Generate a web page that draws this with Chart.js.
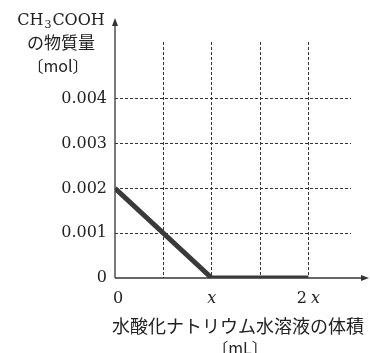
<!DOCTYPE html>
<html>
<head>
<meta charset="utf-8">
<script src="https://cdn.jsdelivr.net/npm/chart.js@4/dist/chart.umd.min.js"></script>
<style>
  html, body { margin: 0; padding: 0; background: #fff; }
  #wrap { width: 370px; height: 353px; position: relative; }
</style>
</head>
<body>
<div id="wrap"><canvas id="c" width="370" height="353"></canvas></div>
<script>
// ---- data (x values in units of "x" mL) ----
const volumes = [0, 1, 2];
const moles = [0.002, 0, 0];

const xTickValues = [0, 0.5, 1, 1.5, 2];
const xTickLabels = ['0', '', 'x', '', '2x'];
const yTickValues = [0, 0.001, 0.002, 0.003, 0.004];
const yTickLabels = ['0', '0.001', '0.002', '0.003', '0.004'];

const yTitleLines = ['CH|3|COOH', 'の物質量', '〔mol〕'];
const xTitleLines = ['水酸化ナトリウム水溶液の体積', '〔mL〕'];

const xMax = 2.44;
const yMax = 0.00527;

const SERIF = '"DejaVu Serif", "Liberation Serif", serif';
const CJK = '"Noto Sans CJK JP", "Noto Sans CJK SC", sans-serif';
const INK = '#222';

const points = volumes.map((v, i) => ({ x: v, y: moles[i] }));

const axesPlugin = {
  id: 'axes',
  beforeDatasetsDraw(chart) {
    const { ctx, chartArea } = chart;
    const x0 = chartArea.left, y0 = chartArea.bottom;
    ctx.save();
    ctx.strokeStyle = '#333';
    ctx.fillStyle = '#333';
    ctx.lineWidth = 1.3;
    // y axis
    const yTop = 18;
    ctx.beginPath(); ctx.moveTo(x0, y0); ctx.lineTo(x0, yTop + 4); ctx.stroke();
    ctx.beginPath(); ctx.moveTo(x0, yTop); ctx.lineTo(x0 - 3, yTop + 8); ctx.lineTo(x0 + 3, yTop + 8); ctx.closePath(); ctx.fill();
    // x axis
    const xEnd = 369;
    ctx.beginPath(); ctx.moveTo(x0, y0); ctx.lineTo(xEnd - 4, y0); ctx.stroke();
    ctx.beginPath(); ctx.moveTo(xEnd, y0); ctx.lineTo(xEnd - 8, y0 - 3); ctx.lineTo(xEnd - 8, y0 + 3); ctx.closePath(); ctx.fill();
    ctx.restore();
  },
  afterDraw(chart) {
    const { ctx, chartArea } = chart;
    const xs = chart.scales.x;
    ctx.save();
    ctx.fillStyle = INK;
    ctx.textBaseline = 'middle';
    // x tick labels
    const ty = chartArea.bottom + 21;
    xTickValues.forEach((v, i) => {
      const lab = xTickLabels[i];
      if (!lab) return;
      const px = xs.getPixelForValue(v);
      const parts = lab.match(/^(\d*)(x?)$/);
      const num = parts[1], it = parts[2];
      ctx.font = '16px ' + SERIF;
      const wNum = ctx.measureText(num).width;
      ctx.font = 'italic 16px ' + SERIF;
      const wIt = it ? ctx.measureText(it).width : 0;
      const gap = num && it ? 4 : 0;
      let sx = px - (wNum + gap + wIt) / 2 + (v === 0 ? 3 : 0);
      ctx.textAlign = 'left';
      ctx.font = '16px ' + SERIF;
      ctx.fillText(num, sx, ty);
      ctx.font = 'italic 16px ' + SERIF;
      ctx.fillText(it, sx + wNum + gap, ty);
    });
    // y title
    const cx = 61;
    const [a, sub, b] = yTitleLines[0].split('|');
    ctx.font = '16px ' + SERIF;
    const wa = ctx.measureText(a).width, wb = ctx.measureText(b).width;
    ctx.font = '11px ' + SERIF;
    const ws = ctx.measureText(sub).width;
    let sx = cx - (wa + ws + wb + 2) / 2;
    ctx.textAlign = 'left';
    ctx.font = '16px ' + SERIF;
    ctx.fillText(a, sx, 21);
    ctx.font = '11px ' + SERIF;
    ctx.fillText(sub, sx + wa + 1, 25);
    ctx.font = '16px ' + SERIF;
    ctx.fillText(b, sx + wa + ws + 2, 21);
    ctx.textAlign = 'center';
    ctx.font = '17px ' + CJK;
    ctx.fillText(yTitleLines[1], cx, 43);
    ctx.font = '16px ' + CJK;
    ctx.fillText(yTitleLines[2], 58, 66);
    // x title
    ctx.font = '18px ' + CJK;
    ctx.fillText(xTitleLines[0], 238, 326);
    ctx.font = '16px ' + CJK;
    ctx.fillText(xTitleLines[1], 240, 348);
    ctx.restore();
  }
};

const gridColor = (ctx) => (ctx.tick && ctx.tick.value === 0) ? 'rgba(0,0,0,0)' : '#333';

new Chart(document.getElementById('c'), {
  type: 'scatter',
  data: {
    datasets: [
      { data: points, showLine: true, borderColor: '#3a3a3a', borderWidth: 5, pointRadius: 0, tension: 0, borderCapStyle: 'butt', borderJoinStyle: 'miter' },
      { data: points, showLine: true, borderColor: '#a0a0a0', borderWidth: 2, pointRadius: 0, tension: 0, borderCapStyle: 'butt', borderJoinStyle: 'miter' }
    ]
  },
  options: {
    responsive: false,
    animation: false,
    devicePixelRatio: 1,
    layout: { padding: { top: 42, right: 19, left: 0, bottom: 0 } },
    plugins: { legend: { display: false }, tooltip: { enabled: false } },
    scales: {
      x: {
        type: 'linear', min: 0, max: xMax,
        afterBuildTicks: (s) => { s.ticks = xTickValues.map(v => ({ value: v })); },
        afterFit: (s) => { s.height = 75; },
        ticks: { display: false },
        border: { display: false, dash: [3, 2] },
        grid: { color: gridColor, lineWidth: 1, drawTicks: false }
      },
      y: {
        type: 'linear', min: 0, max: yMax,
        afterBuildTicks: (s) => { s.ticks = yTickValues.map(v => ({ value: v })); },
        afterFit: (s) => { s.width = 115; },
        ticks: {
          padding: 8, color: INK,
          font: { family: SERIF, size: 16 },
          callback: (v, i) => yTickLabels[i]
        },
        border: { display: false, dash: [3, 2] },
        grid: { color: gridColor, lineWidth: 1, drawTicks: false }
      }
    }
  },
  plugins: [axesPlugin]
});
</script>
</body>
</html>
